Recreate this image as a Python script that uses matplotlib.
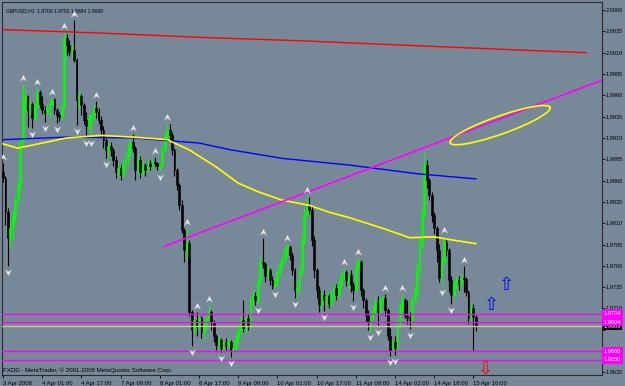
import numpy as np
import matplotlib
matplotlib.use("Agg")
import matplotlib.pyplot as plt
from matplotlib.path import Path

# GBPUSD H1 bars, oldest first
opens = [1.9870, 1.9863, 1.9823, 1.9793, 1.9804, 1.9819, 1.9837, 1.9854, 1.9905, 1.9954,
         1.9959, 1.9943, 1.9950, 1.9933, 1.9947, 1.9964, 1.9950, 1.9943, 1.9939, 1.9945,
         1.9950, 1.9956, 1.9943, 1.9937, 1.9935, 1.9947, 2.0027, 2.0019, 2.0011, 2.0013,
         2.0001, 1.9954, 1.9959, 1.9949, 1.9931, 1.9924, 1.9933, 1.9937, 1.9945, 1.9940,
         1.9931, 1.9919, 1.9908, 1.9896, 1.9901, 1.9896, 1.9884, 1.9870, 1.9875, 1.9867,
         1.9878, 1.9884, 1.9896, 1.9905, 1.9898, 1.9872, 1.9884, 1.9870, 1.9878, 1.9872,
         1.9879, 1.9877, 1.9882, 1.9881, 1.9877, 1.9878, 1.9896, 1.9908, 1.9919, 1.9913,
         1.9896, 1.9872, 1.9855, 1.9831, 1.9802, 1.9779, 1.9787, 1.9706, 1.9685, 1.9697,
         1.9690, 1.9699, 1.9683, 1.9691, 1.9699, 1.9706, 1.9694, 1.9678, 1.9667, 1.9673,
         1.9664, 1.9671, 1.9666, 1.9671, 1.9661, 1.9664, 1.9675, 1.9685, 1.9697, 1.9687,
         1.9699, 1.9690, 1.9720, 1.9725, 1.9720, 1.9741, 1.9765, 1.9762, 1.9748, 1.9755,
         1.9743, 1.9736, 1.9741, 1.9753, 1.9761, 1.9769, 1.9779, 1.9782, 1.9773, 1.9755,
         1.9732, 1.9734, 1.9753, 1.9790, 1.9820, 1.9831, 1.9826, 1.9790, 1.9755, 1.9732,
         1.9714, 1.9726, 1.9720, 1.9725, 1.9715, 1.9727, 1.9734, 1.9726, 1.9738, 1.9748,
         1.9753, 1.9743, 1.9749, 1.9738, 1.9732, 1.9757, 1.9765, 1.9732, 1.9720, 1.9702,
         1.9694, 1.9699, 1.9708, 1.9718, 1.9706, 1.9720, 1.9722, 1.9708, 1.9678, 1.9661,
         1.9671, 1.9664, 1.9692, 1.9713, 1.9720, 1.9701, 1.9699, 1.9697, 1.9720, 1.9729,
         1.9755, 1.9784, 1.9820, 1.9878, 1.9861, 1.9843, 1.9820, 1.9804, 1.9779, 1.9746,
         1.9765, 1.9788, 1.9779, 1.9743, 1.9726, 1.9739, 1.9743, 1.9739, 1.9746, 1.9745,
         1.9729, 1.9699, 1.9711, 1.9700]
highs = [1.9881, 1.9865, 1.9828, 1.9814, 1.9826, 1.9842, 1.9858, 1.9910, 1.9973, 1.9969,
         1.9960, 1.9954, 1.9952, 1.9951, 1.9969, 1.9966, 1.9959, 1.9947, 1.9950, 1.9954,
         1.9957, 1.9957, 1.9945, 1.9940, 1.9950, 2.0034, 2.0032, 2.0025, 2.0020, 2.0048,
         2.0004, 1.9966, 1.9962, 1.9951, 1.9940, 1.9938, 1.9940, 1.9950, 1.9953, 1.9945,
         1.9936, 1.9924, 1.9910, 1.9908, 1.9905, 1.9898, 1.9889, 1.9882, 1.9878, 1.9884,
         1.9889, 1.9903, 1.9910, 1.9915, 1.9901, 1.9890, 1.9889, 1.9884, 1.9881, 1.9884,
         1.9884, 1.9885, 1.9888, 1.9882, 1.9879, 1.9902, 1.9917, 1.9928, 1.9926, 1.9917,
         1.9898, 1.9875, 1.9857, 1.9837, 1.9804, 1.9804, 1.9790, 1.9708, 1.9701, 1.9706,
         1.9704, 1.9701, 1.9697, 1.9705, 1.9714, 1.9708, 1.9697, 1.9680, 1.9678, 1.9675,
         1.9673, 1.9675, 1.9675, 1.9673, 1.9673, 1.9680, 1.9690, 1.9702, 1.9720, 1.9706,
         1.9704, 1.9722, 1.9732, 1.9729, 1.9746, 1.9772, 1.9793, 1.9765, 1.9760, 1.9757,
         1.9748, 1.9746, 1.9757, 1.9765, 1.9774, 1.9783, 1.9786, 1.9784, 1.9776, 1.9757,
         1.9743, 1.9757, 1.9795, 1.9828, 1.9842, 1.9841, 1.9830, 1.9795, 1.9757, 1.9736,
         1.9732, 1.9732, 1.9729, 1.9727, 1.9732, 1.9739, 1.9739, 1.9743, 1.9753, 1.9757,
         1.9755, 1.9753, 1.9755, 1.9741, 1.9765, 1.9769, 1.9767, 1.9734, 1.9722, 1.9708,
         1.9704, 1.9713, 1.9722, 1.9725, 1.9725, 1.9725, 1.9727, 1.9711, 1.9687, 1.9673,
         1.9678, 1.9697, 1.9715, 1.9727, 1.9722, 1.9720, 1.9706, 1.9725, 1.9736, 1.9765,
         1.9794, 1.9828, 1.9892, 1.9884, 1.9863, 1.9847, 1.9823, 1.9807, 1.9786, 1.9769,
         1.9795, 1.9793, 1.9781, 1.9748, 1.9743, 1.9748, 1.9748, 1.9750, 1.9760, 1.9747,
         1.9732, 1.9716, 1.9715, 1.9702]
lows = [1.9858, 1.9808, 1.9760, 1.9781, 1.9790, 1.9811, 1.9833, 1.9849, 1.9902, 1.9940,
        1.9923, 1.9937, 1.9922, 1.9931, 1.9945, 1.9945, 1.9938, 1.9929, 1.9936, 1.9933,
        1.9947, 1.9938, 1.9928, 1.9930, 1.9931, 1.9945, 2.0007, 2.0006, 2.0004, 1.9999,
        1.9925, 1.9943, 1.9937, 1.9926, 1.9911, 1.9919, 1.9911, 1.9929, 1.9933, 1.9926,
        1.9912, 1.9898, 1.9886, 1.9884, 1.9889, 1.9877, 1.9863, 1.9865, 1.9861, 1.9863,
        1.9872, 1.9878, 1.9890, 1.9893, 1.9861, 1.9867, 1.9863, 1.9865, 1.9865, 1.9870,
        1.9872, 1.9875, 1.9877, 1.9872, 1.9871, 1.9876, 1.9893, 1.9905, 1.9908, 1.9890,
        1.9865, 1.9849, 1.9826, 1.9799, 1.9765, 1.9769, 1.9701, 1.9666, 1.9681, 1.9678,
        1.9685, 1.9675, 1.9673, 1.9685, 1.9694, 1.9685, 1.9671, 1.9661, 1.9661, 1.9659,
        1.9661, 1.9661, 1.9664, 1.9653, 1.9659, 1.9661, 1.9671, 1.9680, 1.9683, 1.9683,
        1.9685, 1.9687, 1.9714, 1.9714, 1.9715, 1.9739, 1.9757, 1.9741, 1.9743, 1.9738,
        1.9733, 1.9734, 1.9738, 1.9748, 1.9757, 1.9765, 1.9772, 1.9767, 1.9749, 1.9722,
        1.9722, 1.9729, 1.9749, 1.9786, 1.9816, 1.9821, 1.9783, 1.9746, 1.9722, 1.9706,
        1.9711, 1.9707, 1.9713, 1.9711, 1.9713, 1.9722, 1.9720, 1.9722, 1.9734, 1.9743,
        1.9736, 1.9734, 1.9729, 1.9719, 1.9729, 1.9755, 1.9725, 1.9711, 1.9694, 1.9685,
        1.9683, 1.9697, 1.9704, 1.9690, 1.9704, 1.9714, 1.9701, 1.9673, 1.9654, 1.9659,
        1.9656, 1.9661, 1.9690, 1.9706, 1.9699, 1.9692, 1.9686, 1.9691, 1.9718, 1.9725,
        1.9750, 1.9779, 1.9816, 1.9851, 1.9837, 1.9811, 1.9797, 1.9765, 1.9741, 1.9736,
        1.9761, 1.9772, 1.9729, 1.9715, 1.9722, 1.9734, 1.9732, 1.9734, 1.9729, 1.9725,
        1.9692, 1.9694, 1.9661, 1.9684]
closes = [1.9863, 1.9823, 1.9793, 1.9804, 1.9819, 1.9837, 1.9854, 1.9905, 1.9954, 1.9959,
          1.9943, 1.9950, 1.9933, 1.9947, 1.9964, 1.9950, 1.9943, 1.9939, 1.9945, 1.9950,
          1.9956, 1.9943, 1.9937, 1.9935, 1.9947, 2.0027, 2.0019, 2.0011, 2.0013, 2.0001,
          1.9954, 1.9959, 1.9949, 1.9931, 1.9924, 1.9933, 1.9937, 1.9945, 1.9940, 1.9931,
          1.9919, 1.9908, 1.9896, 1.9901, 1.9896, 1.9884, 1.9870, 1.9875, 1.9867, 1.9878,
          1.9884, 1.9896, 1.9905, 1.9898, 1.9872, 1.9884, 1.9870, 1.9878, 1.9872, 1.9879,
          1.9877, 1.9882, 1.9881, 1.9877, 1.9878, 1.9896, 1.9908, 1.9919, 1.9913, 1.9896,
          1.9872, 1.9855, 1.9831, 1.9802, 1.9779, 1.9787, 1.9706, 1.9685, 1.9697, 1.9690,
          1.9699, 1.9683, 1.9691, 1.9699, 1.9706, 1.9694, 1.9678, 1.9667, 1.9673, 1.9664,
          1.9671, 1.9666, 1.9671, 1.9661, 1.9664, 1.9675, 1.9685, 1.9697, 1.9687, 1.9699,
          1.9690, 1.9720, 1.9725, 1.9720, 1.9741, 1.9765, 1.9762, 1.9748, 1.9755, 1.9743,
          1.9736, 1.9741, 1.9753, 1.9761, 1.9769, 1.9779, 1.9782, 1.9773, 1.9755, 1.9732,
          1.9734, 1.9753, 1.9790, 1.9820, 1.9831, 1.9826, 1.9790, 1.9755, 1.9732, 1.9714,
          1.9726, 1.9720, 1.9725, 1.9715, 1.9727, 1.9734, 1.9726, 1.9738, 1.9748, 1.9753,
          1.9743, 1.9749, 1.9738, 1.9732, 1.9757, 1.9765, 1.9732, 1.9720, 1.9702, 1.9694,
          1.9699, 1.9708, 1.9718, 1.9706, 1.9720, 1.9722, 1.9708, 1.9678, 1.9661, 1.9671,
          1.9664, 1.9692, 1.9713, 1.9720, 1.9701, 1.9699, 1.9697, 1.9720, 1.9729, 1.9755,
          1.9784, 1.9820, 1.9878, 1.9861, 1.9843, 1.9820, 1.9804, 1.9779, 1.9746, 1.9765,
          1.9788, 1.9779, 1.9743, 1.9726, 1.9739, 1.9743, 1.9739, 1.9746, 1.9745, 1.9729,
          1.9699, 1.9711, 1.9700, 1.9689]

# fractals (bar indices)
fractal_up = [0, 8, 14, 20, 25, 29, 38, 53, 62, 67, 75, 79, 84, 106, 116, 124,
              139, 145, 156, 163, 180, 188]
fractal_down = [2, 12, 17, 22, 30, 34, 36, 42, 64, 77, 89, 93, 104, 111, 119, 131,
                143, 150, 153, 158, 160, 166, 179, 183]

# moving averages (sampled along the curve)
ma_red_x = [0, 40, 80, 121, 162, 203, 238]
ma_red = [2.0037, 2.0033, 2.0028, 2.0024, 2.0019, 2.0014, 2.0010]
ma_blue_x = [0, 26, 53, 80, 93, 114, 142, 169, 193]
ma_blue = [1.9908, 1.9911, 1.9910, 1.9904, 1.9896, 1.9886, 1.9878, 1.9868, 1.9862]
ma_yellow_x = [0, 6, 26, 40, 53, 67, 76, 87, 96, 104, 114, 125, 133, 142, 155, 166, 176, 182, 193]
ma_yellow = [1.9903, 1.9898, 1.9910, 1.9913, 1.9911, 1.9908, 1.9896, 1.9876, 1.9857, 1.9847,
             1.9837, 1.9831, 1.9823, 1.9816, 1.9804, 1.9793, 1.9794, 1.9791, 1.9786]

# chart objects
hlines = [1.9704, 1.9694, 1.9660, 1.9650]
bid = 1.9689
trend_x = [66, 176]
trend_y = [1.9783, 1.9903]
ellipse_center = (202.9, 1.9925)
arrows_up = [(199.2, 1.9714), (205.7, 1.9738)]
arrows_down = [(197.1, 1.9640)]

xtick_pos = list(range(0, 193, 16))
xtick_labels = ["3 Apr 2008", "4 Apr 01:00", "4 Apr 17:00", "7 Apr 09:00", "8 Apr 01:00",
                "8 Apr 17:00", "9 Apr 09:00", "10 Apr 01:00", "10 Apr 17:00", "11 Apr 09:00",
                "14 Apr 02:00", "14 Apr 18:00", "15 Apr 10:00"]

BG = "#778899"
small_font = ["Liberation Sans", "DejaVu Sans"]

fig = plt.figure(figsize=(6.25, 3.86), dpi=100, facecolor=BG)
ax = fig.add_axes([2 / 625, 1 - 375 / 386, 600 / 625, 373 / 386])
ax.set_facecolor(BG)
ax.set_xlim(-0.41, 244.5)
ax.set_ylim(1.96320, 2.00694)

# candles
o = np.array(opens)
h = np.array(highs)
l = np.array(lows)
c = np.array(closes)
x = np.arange(len(o))
up = c >= o
cols = np.where(up, "#00ff00", "#000000")
ax.vlines(x, l, h, colors=cols, linewidth=0.8, zorder=2)
ax.bar(x, np.abs(c - o), width=0.75, bottom=np.minimum(o, c), color=cols,
       edgecolor=cols, linewidth=0.4, zorder=3)

# moving averages
ax.plot(ma_red_x, ma_red, color="#ff0000", lw=1, zorder=4)
ax.plot(ma_blue_x, ma_blue, color="#0000ff", lw=1, zorder=4)
ax.plot(ma_yellow_x, ma_yellow, color="#ffff00", lw=1.2, zorder=4)

# fractal arrows
up_m = Path([(0, 1), (0.9, -0.8), (0, -0.2), (-0.9, -0.8), (0, 1)],
            [Path.MOVETO, Path.LINETO, Path.LINETO, Path.LINETO, Path.CLOSEPOLY])
dn_m = Path([(0, -1), (0.9, 0.8), (0, 0.2), (-0.9, 0.8), (0, -1)],
            [Path.MOVETO, Path.LINETO, Path.LINETO, Path.LINETO, Path.CLOSEPOLY])
ax.plot(fractal_up, h[fractal_up] + 0.0007, ls="none", marker=up_m, ms=5,
        mfc="#eeeeee", mec="#bbbbbb", mew=0.3, zorder=5)
ax.plot(fractal_down, l[fractal_down] - 0.0007, ls="none", marker=dn_m, ms=5,
        mfc="#eeeeee", mec="#bbbbbb", mew=0.3, zorder=5)

# horizontal levels and bid line
for lv in hlines:
    ax.axhline(lv, color="#ff00ff", lw=1, zorder=4)
ax.axhline(bid, color="#c8c890", lw=1, zorder=4)

# trend line (ray to the right)
slope = (trend_y[1] - trend_y[0]) / (trend_x[1] - trend_x[0])
x_end = ax.get_xlim()[1]
ax.plot([trend_x[0], x_end], [trend_y[0], trend_y[0] + slope * (x_end - trend_x[0])],
        color="#ff00ff", lw=1.2, zorder=4)

# ellipse drawn in pixel space around its data centre
cx, cy = ax.transData.transform(ellipse_center)
t = np.linspace(0, 2 * np.pi, 200)
a, b, ang = 53, 9, np.deg2rad(19.5)
px = cx + a * np.cos(t) * np.cos(ang) - b * np.sin(t) * np.sin(ang)
py = cy + a * np.cos(t) * np.sin(ang) + b * np.sin(t) * np.cos(ang)
ell = ax.transData.inverted().transform(np.column_stack([px, py]))
ax.plot(ell[:, 0], ell[:, 1], color="#ffff00", lw=1.2, zorder=5)

# arrow objects
for ax_x, ax_y in arrows_up:
    ax.text(ax_x, ax_y, "\u21e7", color="#0000ff", fontsize=13, ha="center", va="center",
            family="DejaVu Sans", zorder=6)
for ax_x, ax_y in arrows_down:
    ax.text(ax_x, ax_y, "\u21e9", color="#ff0000", fontsize=13, ha="center", va="center",
            family="DejaVu Sans", zorder=6, clip_on=False)

# axes styling
for s in ax.spines.values():
    s.set_color("#2b2b2b")
    s.set_linewidth(0.8)
ax.yaxis.tick_right()
yt = np.arange(1.9635, 2.0061, 0.0025)
# the 1.9685 and 1.9660 labels sit under the price tags, as in the terminal
ylabels = ["" if abs(v - 1.9685) < 1e-6 or abs(v - 1.9660) < 1e-6 else f"{v:.4f}" for v in yt]
ax.set_yticks(yt)
ax.set_yticklabels(ylabels, family=small_font, fontsize=4.1)
ax.set_xticks(xtick_pos)
ax.set_xticklabels(xtick_labels, family=small_font, fontsize=4.3)
for lbl in ax.get_xticklabels():
    lbl.set_horizontalalignment("left")
ax.tick_params(axis="y", length=2, width=0.6, pad=0.8, colors="#000000")
ax.tick_params(axis="x", length=2.5, width=0.6, pad=1.5, colors="#000000")

# right-side price tags
for lv in hlines:
    ax.annotate(f"{lv:.4f}", xy=(1.003, lv), xycoords=("axes fraction", "data"),
                va="center", ha="left", color="white", family=small_font, fontsize=4.1,
                bbox=dict(boxstyle="square,pad=0.3", fc="#ff00ff", ec="none"), zorder=10)
ax.annotate(f"{bid:.4f}", xy=(1.003, bid), xycoords=("axes fraction", "data"),
            va="center", ha="left", color="white", family=small_font, fontsize=4.1,
            bbox=dict(boxstyle="square,pad=0.2", fc="#000000", ec="none"), zorder=9)

# header and footer texts
ax.text(0.006, 0.976, "GBPUSD,H1  1.9700 1.9702 1.9684 1.9689", transform=ax.transAxes,
        family=small_font, fontsize=3.6, va="center", ha="left", color="#000000")
ax.text(0.002, 0.012, "FXDD - MetaTrader, \u00a9 2001-2008 MetaQuotes Software Corp.",
        transform=ax.transAxes, family=small_font, fontsize=4.4, va="center",
        ha="left", color="#000000")

fig.savefig("out.png", dpi=100, facecolor=BG)
